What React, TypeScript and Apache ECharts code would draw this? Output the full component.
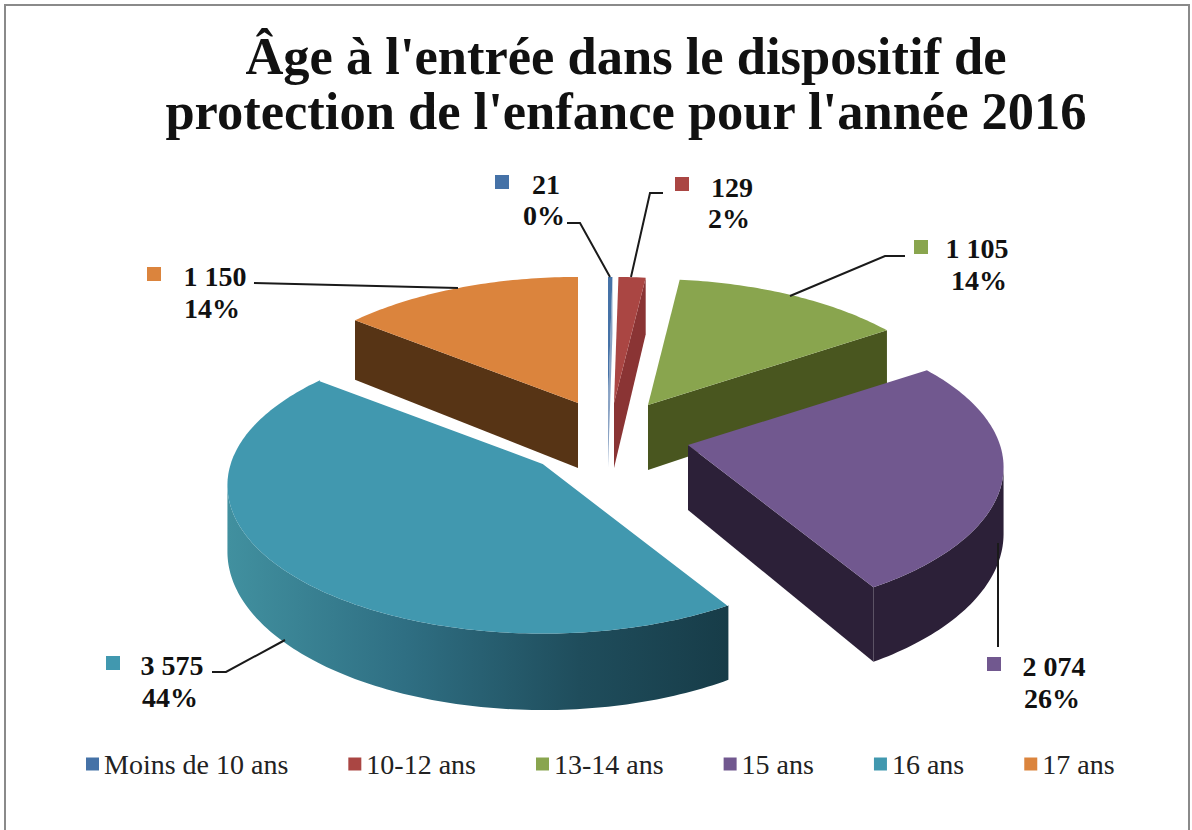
import React, { useEffect, useRef } from "react";
import * as echarts from "echarts";

const titleText = "Âge à l'entrée dans le dispositif de\nprotection de l'enfance pour l'année 2016";
const categories = ["Moins de 10 ans", "10-12 ans", "13-14 ans", "15 ans", "16 ans", "17 ans"];
const seriesValues = [21, 129, 1105, 2074, 3575, 1150];
const valueLabels = ["21", "129", "1 105", "2 074", "3 575", "1 150"];
const percentLabels = ["0%", "2%", "14%", "26%", "44%", "14%"];
const topColors = ["#4572a7", "#aa4643", "#89a54e", "#71588f", "#4198af", "#db843d"];
const wallColors = ["#8aa3c4", "#8a3434", "#49561f", "#2c2038", "#2f6f83", "#573415"];

// Layout: projected apex of every exploded slice, draw order, and label placement
const apexes = [[608, 403], [614, 403], [648, 405], [688, 445], [543, 463], [578, 403]];
const drawRank = [2, 3, 1, 5, 4, 0];
const RX = 312, RY = 145, PERSP = 0.15, DEPTH = 65;
const squares = [[502, 182], [682, 184], [921, 247], [994, 664], [113, 663], [154, 274]];
const valuePos = [[546, 184], [732, 187], [977, 248], [1054, 666], [172, 665], [215, 276]];
const pctPos = [[544, 215], [729, 218], [979, 280], [1052, 698], [170, 697], [212, 308]];
const leaders = [
  [[567, 223], [580, 223], [610, 277]],
  [[663, 193], [650, 193], [631, 277]],
  [[905, 256], [885, 256], [790, 296]],
  [[998, 647], [998, 543]],
  [[212, 672], [226, 672], [285, 640]],
  [[254, 283], [458, 288]],
];

const total = seriesValues.reduce((a, b) => a + b, 0);
const SERIF = "'Liberation Serif', serif";

function project(i: number, deg: number, radial = 1) {
  const t = (deg * Math.PI) / 180;
  const u = Math.sin(t) * radial;
  const v = Math.cos(t) * radial;
  const s = 1 / (1 + PERSP * v);
  return { x: apexes[i][0] + RX * u * s, y: apexes[i][1] - RY * v * s, s };
}
const faces = (a: any, b: any, inside: number[]) => {
  // A wall under edge a-b shows when the slice lies above that edge on screen
  const dx = b.x - a.x;
  if (Math.abs(dx) < 1e-6) return false;
  const yLine = a.y + ((inside[0] - a.x) * (b.y - a.y)) / dx;
  return inside[1] < yLine;
};

function renderSlice(params: any, api: any) {
  const i = params.seriesIndex;
  const value = api.value(0);
  const before = seriesValues.slice(0, i).reduce((a, b) => a + b, 0);
  const a0 = (before / total) * 360;
  const a1 = a0 + (value / total) * 360;
  const mid = project(i, (a0 + a1) / 2, 0.5);
  const inside = [mid.x, mid.y];
  const apex = project(i, 0, 0);
  const pts: any[] = [];
  const n = Math.max(2, Math.ceil(a1 - a0));
  for (let k = 0; k <= n; k++) pts.push(project(i, a0 + ((a1 - a0) * k) / n));
  const children: any[] = [];
  const wallFill =
    i === 4
      ? new echarts.graphic.LinearGradient(
          228, 0, 730, 0,
          [
            { offset: 0, color: "#41909f" },
            { offset: 0.35, color: "#2f6f83" },
            { offset: 0.7, color: "#1f4d5c" },
            { offset: 1, color: "#173c48" },
          ],
          true
        )
      : wallColors[i];
  const cut = (edge: any) => {
    if (!faces(apex, edge, inside)) return;
    children.push({
      type: "polygon",
      shape: {
        points: [
          [apex.x, apex.y],
          [edge.x, edge.y],
          [edge.x, edge.y + DEPTH * edge.s],
          [apex.x, apex.y + DEPTH],
        ],
      },
      style: { fill: wallColors[i] },
    });
  };
  cut(pts[0]);
  cut(pts[pts.length - 1]);
  // Outer rim: contiguous runs of segments that face the viewer
  let run: any[] = [];
  const flush = () => {
    if (run.length > 1) {
      const top = run.map((p) => [p.x, p.y]);
      const bottom = run.map((p) => [p.x, p.y + DEPTH * p.s]).reverse();
      children.push({ type: "polygon", shape: { points: top.concat(bottom) }, style: { fill: wallFill } });
    }
    run = [];
  };
  for (let k = 0; k < n; k++) {
    if (faces(pts[k], pts[k + 1], inside)) {
      if (!run.length) run.push(pts[k]);
      run.push(pts[k + 1]);
    } else flush();
  }
  flush();
  children.push({
    type: "polygon",
    shape: { points: [[apex.x, apex.y]].concat(pts.map((p) => [p.x, p.y])) },
    style: { fill: topColors[i] },
  });
  if (i === 4) {
    const first = pts[0];
    const last = pts[pts.length - 1];
    children.push({
      type: "polyline",
      shape: { points: [[first.x, first.y], [apex.x, apex.y], [last.x, last.y]] },
      style: { fill: "none", stroke: "#ffffff", lineWidth: 2 },
    });
  }
  return { type: "group", children };
}

const labelGraphics: any[] = [
  {
    type: "rect",
    shape: { x: 5, y: 5, width: 1184, height: 900 },
    style: { fill: "none", stroke: "#8a8a8a", lineWidth: 2 },
    z: 0,
  },
];
categories.forEach((_, i) => {
  labelGraphics.push({
    type: "rect",
    shape: { x: squares[i][0] - 7, y: squares[i][1] - 7, width: 14, height: 14 },
    style: { fill: topColors[i] },
    z: 20,
  });
  labelGraphics.push({
    type: "polyline",
    shape: { points: leaders[i] },
    style: { fill: "none", stroke: "#1a1a1a", lineWidth: 2 },
    z: 20,
  });
  [[valueLabels[i], valuePos[i]], [percentLabels[i], pctPos[i]]].forEach(([text, pos]: any) => {
    labelGraphics.push({
      type: "text",
      x: pos[0],
      y: pos[1],
      style: {
        text,
        fill: "#111111",
        font: `bold 28px ${SERIF}`,
        textAlign: "center",
        textVerticalAlign: "middle",
      },
      z: 20,
    });
  });
});

export default function App() {
  const ref = useRef<HTMLDivElement>(null);
  useEffect(() => {
    document.body.style.margin = "0";
    const chart = echarts.init(ref.current!, undefined, { renderer: "svg" });
    chart.setOption({
      animation: false,
      backgroundColor: "#ffffff",
      title: {
        text: titleText,
        left: 621,
        top: 23,
        textAlign: "center",
        textStyle: { fontFamily: SERIF, fontWeight: "bold", fontSize: 52.5, lineHeight: 55, color: "#111111" },
      },
      legend: {
        data: categories,
        left: 81,
        top: 745,
        itemWidth: 13,
        itemHeight: 13,
        itemGap: 60,
        selectedMode: false,
        icon: "rect",
        textStyle: { fontFamily: SERIF, fontSize: 28, color: "#222222" },
      },
      graphic: labelGraphics,
      series: categories.map((name, i) => ({
        type: "custom",
        name,
        coordinateSystem: "none",
        renderItem: renderSlice,
        data: [[seriesValues[i]]],
        itemStyle: { color: topColors[i] },
        z: 2 + drawRank[i],
        silent: true,
      })),
    });
    return () => chart.dispose();
  }, []);
  return <div ref={ref} style={{ width: 1192, height: 830, position: "absolute", left: 0, top: 0 }} />;
}
